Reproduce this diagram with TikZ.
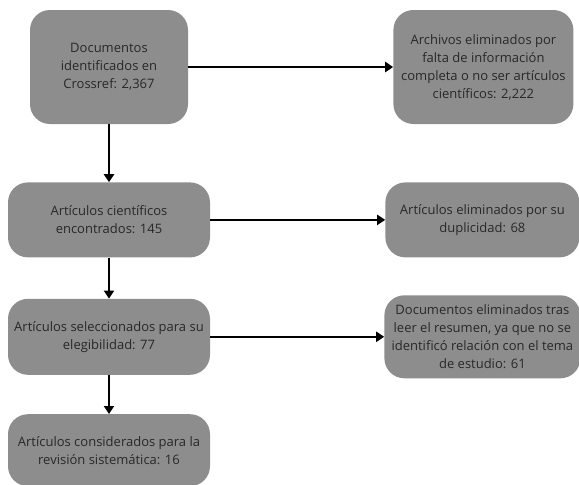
\documentclass[tikz,border=0pt]{standalone}
\usepackage{fontspec}
\setmainfont{Open Sans}
\usetikzlibrary{positioning,arrows.meta}
\definecolor{boxgray}{RGB}{141,141,141}
\definecolor{boxtext}{RGB}{40,40,40}
\tikzset{
    stage/.style={
        fill=boxgray, text=boxtext, rounded corners=20pt,
        align=center, inner sep=2pt,
        font=\fontsize{13}{18}\selectfont
    },
    flow/.style={-{Triangle[length=8pt,width=10pt]}, line width=2pt}
}
\begin{document}
\begin{tikzpicture}

\path[use as bounding box] (0,0) rectangle (579pt,-485pt);

% ===============================
%        main column (left)
% ===============================

\node[stage, minimum width=158pt, minimum height=114pt] (ident) at (109pt,-67pt)
    {Documentos\\identificados en\\Crossref: 2,367};

\node[stage, minimum width=202pt, minimum height=75pt, below=58pt of ident] (found)
    {Artículos científicos\\encontrados: 145};

\node[stage, minimum width=202pt, minimum height=76pt, below=41pt of found] (select)
    {Artículos seleccionados para su\\elegibilidad: 77};

\node[stage, minimum width=202pt, minimum height=72pt, below=39pt of select] (review)
    {Artículos considerados para la\\revisión sistemática: 16};

% ===============================
%       removed records (right)
% ===============================

\node[stage, minimum width=180pt, minimum height=114pt, right=205pt of ident] (nofile)
    {Archivos eliminados por\\falta de información\\completa o no ser artículos\\científicos: 2,222};

\node[stage, minimum width=194pt, minimum height=75pt, right=175pt of found] (dupl)
    {Artículos eliminados por su\\duplicidad: 68};

\node[stage, minimum width=196pt, minimum height=83pt, right=174pt of select] (abstr)
    {Documentos eliminados tras\\leer el resumen, ya que no se\\identificó relación con el tema\\de estudio: 61};

% ===============================
%              arrows
% ===============================

\draw[flow] (ident) -- (found);
\draw[flow] (found) -- (select);
\draw[flow] (select) -- (review);

\draw[flow] (ident) -- (nofile);
\draw[flow] (found) -- (dupl);
\draw[flow] (select) -- (abstr);

\end{tikzpicture}
\end{document}
